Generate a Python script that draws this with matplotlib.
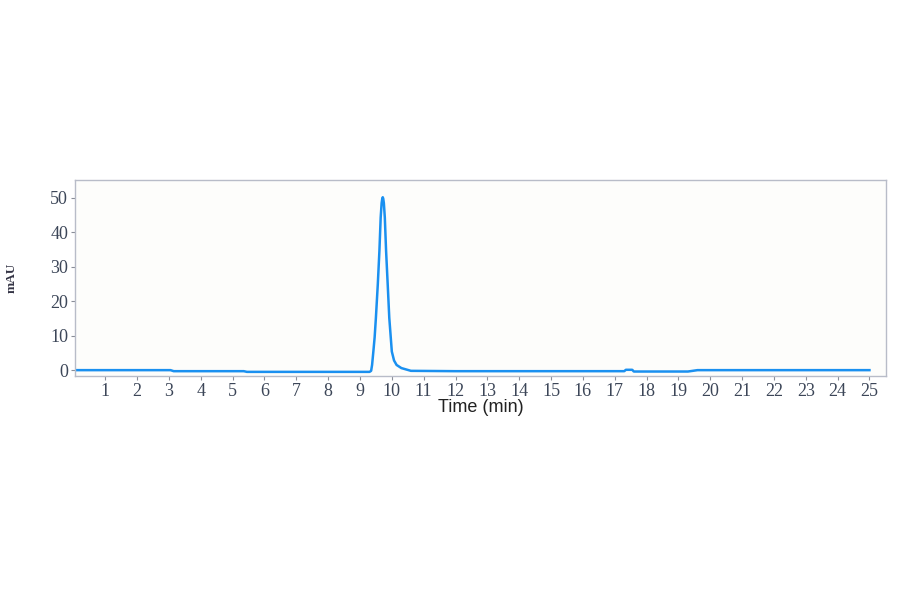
import matplotlib
matplotlib.use("Agg")
import matplotlib.pyplot as plt

# Chromatogram trace (time in min, absorbance in mAU)
time_min = [0.05, 3.05, 3.15, 5.35, 5.45, 9.30, 9.35, 9.38, 9.42, 9.46, 9.50, 9.56,
            9.61, 9.65, 9.68, 9.70, 9.715, 9.73, 9.75, 9.78, 9.82, 9.87, 9.92,
            10.00, 10.07, 10.15, 10.30, 10.45, 10.60, 12.00, 17.30, 17.35, 17.55,
            17.60, 19.30, 19.60, 25.00]
signal_mau = [0.0, 0.0, -0.3, -0.3, -0.5, -0.5, -0.2, 1.5, 5.4, 9.5, 15.2, 25.0,
              34.6, 44.3, 48.5, 49.8, 50.2, 49.8, 48.5, 44.3, 34.6, 25.0, 15.2,
              5.4, 2.8, 1.5, 0.6, 0.2, -0.2, -0.3, -0.3, 0.1, 0.1,
              -0.4, -0.4, 0.0, 0.0]

x_ticks = list(range(1, 26))
y_ticks = [0, 10, 20, 30, 40, 50]

fig = plt.figure(figsize=(9, 5.94), dpi=100, facecolor="white")
ax = fig.add_axes([75 / 900, 1 - 376 / 594, (886 - 75) / 900, (376 - 180) / 594])
ax.set_facecolor("#fdfdfb")

ax.plot(time_min, signal_mau, color="#1a90f0", lw=1.8, solid_joinstyle="round")

ax.set_xlim(0.05, 25.52)
ax.set_ylim(-1.7, 55.2)
ax.set_xticks(x_ticks)
ax.set_yticks(y_ticks)

tick_color = "#3c4658"
for spine in ax.spines.values():
    spine.set_color("#b8bcc8")
    spine.set_linewidth(1.0)
ax.tick_params(axis="both", direction="out", length=3, width=0.8, color="#8a8e98",
               labelcolor=tick_color, labelsize=13, pad=2)
for lbl in ax.get_xticklabels() + ax.get_yticklabels():
    lbl.set_fontfamily("Liberation Serif")

ax.set_xlabel("Time (min)", fontfamily="Liberation Sans", fontsize=13,
              color="#222222", labelpad=-1)
fig.text(12 / 900, 1 - 278 / 594, "mAU", rotation=90, ha="center", va="center",
         fontfamily="Liberation Serif", fontweight="bold", fontsize=9.5,
         color="#333344")

fig.savefig("out.png", dpi=100, facecolor="white")
